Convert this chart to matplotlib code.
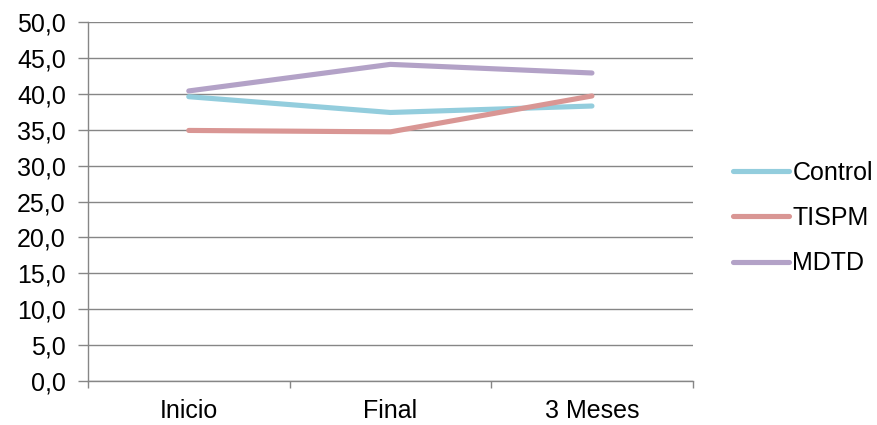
import matplotlib
matplotlib.use("Agg")
import matplotlib.pyplot as plt
from matplotlib.ticker import FuncFormatter, FixedLocator

plt.rcParams['font.family'] = ['Liberation Sans', 'DejaVu Sans']

categories = ["Inicio", "Final", "3 Meses"]
control = [39.6, 37.4, 38.3]
tispm = [34.9, 34.7, 39.7]
mdtd = [40.4, 44.1, 42.9]
series_names = ["Control", "TISPM", "MDTD"]
colors = ["#93CDDD", "#D99694", "#B3A2C7"]

FS = 18

fig = plt.figure(figsize=(8.78, 4.25), dpi=100)
ax = fig.add_axes([0.1002, 0.1035, 0.6888, 0.8447])

x = list(range(len(categories)))
for vals, name, col in zip([control, tispm, mdtd], series_names, colors):
    ax.plot(x, vals, color=col, lw=3.7, solid_capstyle='round',
            solid_joinstyle='round', label=name, zorder=3)

ax.set_ylim(0, 50)
ax.set_yticks([i * 5 for i in range(11)])
ax.yaxis.set_major_formatter(FuncFormatter(lambda v, p: f"{v:.1f}".replace('.', ',')))
ax.yaxis.grid(True, color='#868686', lw=1.0)
ax.set_axisbelow(True)

ax.set_xlim(-0.5, len(categories) - 0.5)
ax.xaxis.set_major_locator(FixedLocator([i - 0.5 for i in range(len(categories) + 1)]))
ax.xaxis.set_minor_locator(FixedLocator(x))
ax.set_xticklabels([])
ax.set_xticklabels(categories, minor=True)
ax.tick_params(axis='x', which='major', length=5, color='#868686', width=1)
ax.tick_params(axis='x', which='minor', length=0, pad=13, labelsize=FS)
ax.tick_params(axis='y', length=7, color='#868686', width=1, labelsize=FS, pad=9)

for s in ['top', 'right']:
    ax.spines[s].set_visible(False)
for s in ['left', 'bottom']:
    ax.spines[s].set_color('#868686')
    ax.spines[s].set_linewidth(1.0)

ax.legend(loc='center left', bbox_to_anchor=(1.03, 0.454), frameon=False,
          fontsize=FS, handlelength=2.24, handletextpad=0.12, labelspacing=0.85)

fig.savefig("out.png", dpi=100)
